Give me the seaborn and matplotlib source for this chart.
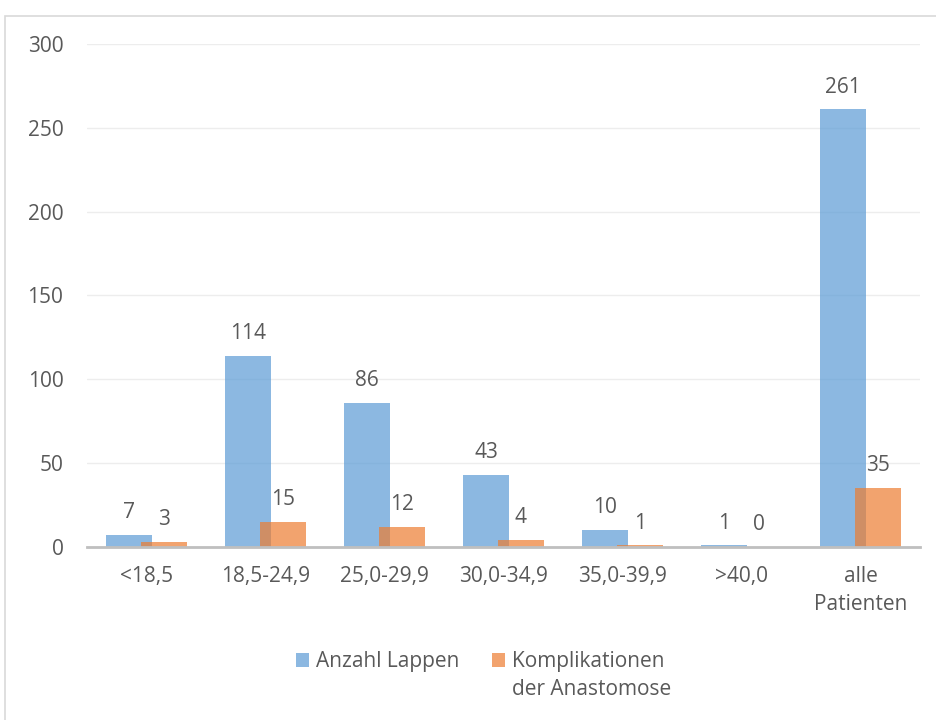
import matplotlib
matplotlib.use("Agg")
import matplotlib.pyplot as plt
import matplotlib.patches as mpatches
import seaborn as sns
import pandas as pd

# BMI groups and counts
categories = ["<18,5", "18,5-24,9", "25,0-29,9", "30,0-34,9", "35,0-39,9", ">40,0", "alle\nPatienten"]
anzahl_lappen = [7, 114, 86, 43, 10, 1, 261]
komplikationen = [3, 15, 12, 4, 1, 0, 35]
series_names = ["Anzahl Lappen", "Komplikationen der Anastomose"]
y_ticks = [0, 50, 100, 150, 200, 250, 300]

df = pd.DataFrame({
    "Gruppe": categories * 2,
    "Wert": anzahl_lappen + komplikationen,
    "Serie": [series_names[0]] * len(categories) + [series_names[1]] * len(categories),
})

sns.set_theme(style="white")
plt.rcParams["font.family"] = ["Open Sans", "DejaVu Sans"]
text_color = "#595959"
fs = 15

fig = plt.figure(figsize=(9.36, 7.2), dpi=100)
ax = fig.add_axes([0.093, 0.2403, 0.890, 0.6986])

palette = {series_names[0]: "#5B9BD5", series_names[1]: "#ED7D31"}
sns.barplot(data=df, x="Gruppe", y="Wert", hue="Serie", order=categories,
            hue_order=series_names, palette=palette, width=0.58, gap=-0.334,
            alpha=0.7, linewidth=0, saturation=1, legend=False, ax=ax, zorder=3)

for cont in ax.containers:
    ax.bar_label(cont, fmt="%d", padding=8.5, fontsize=fs, color=text_color)

ax.set_ylim(0, 300)
ax.set_xlim(-0.5, 6.5)
ax.set_yticks(y_ticks)
ax.yaxis.grid(True, color="#EDEDED", linewidth=1, zorder=0)
ax.set_axisbelow(True)
for s in ["top", "right", "left"]:
    ax.spines[s].set_visible(False)
ax.spines["bottom"].set_color("#BFBFBF")
ax.spines["bottom"].set_linewidth(2)
ax.spines["bottom"].set_zorder(4)
ax.tick_params(axis="y", length=0, pad=17, labelsize=fs, labelcolor=text_color)
ax.tick_params(axis="x", length=0, pad=14, labelsize=fs, labelcolor=text_color)
for t in ax.get_xticklabels():
    t.set_linespacing(1.4)
ax.set_xlabel("")
ax.set_ylabel("")

# Legend: the second entry wraps onto a second line under its first word
handles = [mpatches.Patch(color="#5B9BD5", alpha=0.7, linewidth=0),
           mpatches.Patch(color="#ED7D31", alpha=0.7, linewidth=0)]
first_line = series_names[1].split(" ", 1)
leg = fig.legend(handles, [series_names[0], first_line[0]], loc="center",
                 bbox_to_anchor=(0.513, 0.0806), ncol=2, frameon=False,
                 fontsize=fs, labelcolor=text_color, handlelength=0.62,
                 handleheight=0.62, handletextpad=0.33, columnspacing=1.6)
fig.canvas.draw()
renderer = fig.canvas.get_renderer()
bb = leg.get_texts()[1].get_window_extent(renderer)
fig.text(bb.x0 / fig.bbox.width, (bb.y0 - 28) / fig.bbox.height, first_line[1],
         fontsize=fs, color=text_color, ha="left", va="bottom")

# Chart frame
frame = mpatches.Rectangle((4.5 / 936, -0.05), 1.1, 1 - 15.5 / 720 + 0.05,
                           transform=fig.transFigure, fill=False,
                           edgecolor="#D9D9D9", linewidth=1.2)
fig.patches.append(frame)

fig.savefig("out.png", dpi=100, facecolor="white")
